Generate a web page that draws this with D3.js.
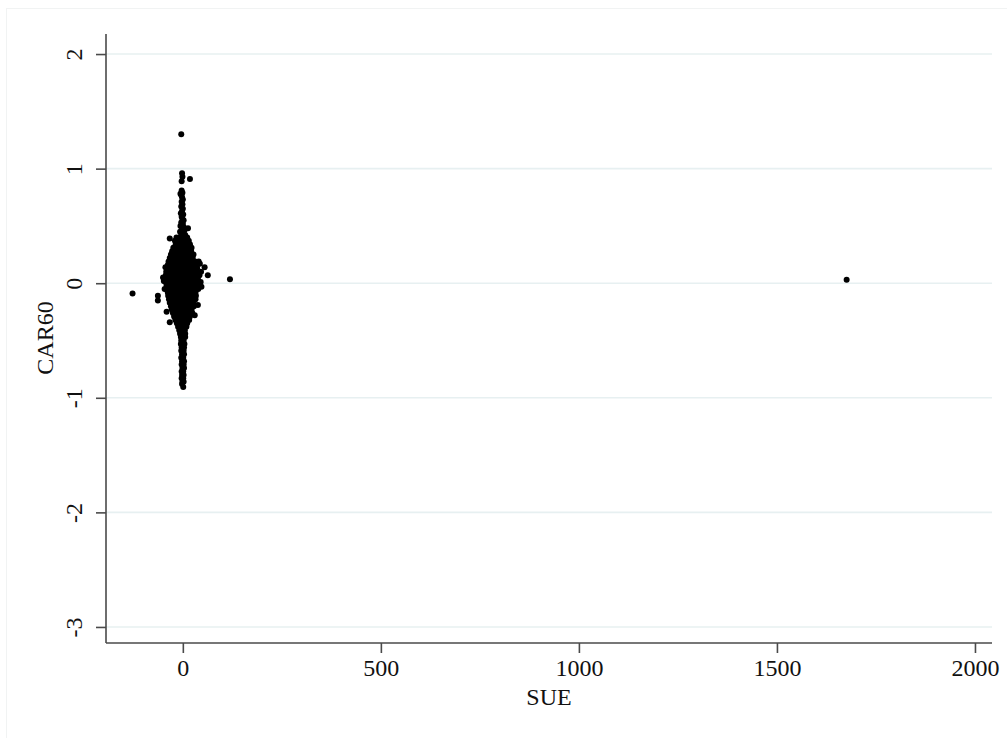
<!DOCTYPE html>
<html>
<head>
<meta charset="utf-8">
<script src="https://cdn.jsdelivr.net/npm/d3@7"></script>
<style>
  body { margin: 0; background: #fff; }
  svg { display: block; }
  text { font-family: "Liberation Serif", "DejaVu Serif", serif; fill: #111; }
</style>
</head>
<body>
<div id="chart"></div>
<script>
'use strict';

// axis ticks
const xTicks = [0, 500, 1000, 1500, 2000];
const yTicks = [2, 1, 0, -1, -2, -3];

// [SUE, CAR60] per firm
const outliers = [
  [-4, 1.30], [18, 0.91], [-33, 0.39], [13, 0.48], [43, 0.17], [55, 0.14],
  [63, 0.07], [119, 0.035], [-127, -0.09], [-63, -0.11], [-63, -0.15],
  [-50, 0.05], [-41, -0.25], [-33, -0.34], [38, -0.19], [30, -0.28],
  [40, 0.19], [46, 0.10], [-48, 0.02], [-46, -0.05], [47, -0.03], [-44, 0.14],
  [1676, 0.03]
];

const upperColumn = [
  [-2, 0.96], [-1, 0.93], [-3, 0.89], [-3, 0.81], [-1, 0.79], [-6, 0.78],
  [-4, 0.77], [-2, 0.75], [0, 0.73], [-3, 0.71], [-1, 0.69], [-4, 0.67],
  [0, 0.65], [-2, 0.63], [-5, 0.61], [1, 0.60], [-3, 0.58], [-1, 0.56],
  [2, 0.55], [-4, 0.53], [0, 0.52], [-6, 0.50], [2, 0.49], [-2, 0.47],
  [4, 0.46], [-7, 0.45], [0, 0.44], [-4, 0.42], [6, 0.42]
];

const core = [
  [-16, 0.40], [-7, 0.40], [2, 0.40], [11, 0.40],
  [-20, 0.37], [-11, 0.37], [-2, 0.37], [7, 0.37], [15, 0.37],
  [-18, 0.34], [-9, 0.34], [0, 0.34], [9, 0.34], [18, 0.34],
  [-24, 0.31], [-14, 0.31], [-4, 0.31], [5, 0.31], [14, 0.31], [22, 0.31],
  [-27, 0.28], [-17, 0.28], [-7, 0.28], [3, 0.28], [12, 0.28], [21, 0.28],
  [-30, 0.25], [-20, 0.25], [-10, 0.25], [0, 0.25], [9, 0.25], [18, 0.25], [27, 0.25],
  [-33, 0.22], [-23, 0.22], [-13, 0.22], [-3, 0.22], [7, 0.22], [16, 0.22], [25, 0.22],
  [-36, 0.19], [-26, 0.19], [-16, 0.19], [-6, 0.19], [4, 0.19], [13, 0.19], [22, 0.19], [31, 0.19],
  [-38, 0.16], [-28, 0.16], [-18, 0.16], [-8, 0.16], [2, 0.16], [11, 0.16], [20, 0.16], [29, 0.16], [36, 0.16],
  [-40, 0.13], [-30, 0.13], [-20, 0.13], [-10, 0.13], [0, 0.13], [9, 0.13], [18, 0.13], [27, 0.13], [36, 0.13],
  [-42, 0.10], [-32, 0.10], [-22, 0.10], [-12, 0.10], [-2, 0.10], [8, 0.10], [17, 0.10], [26, 0.10], [35, 0.10],
  [-43, 0.07], [-33, 0.07], [-23, 0.07], [-13, 0.07], [-3, 0.07], [7, 0.07], [16, 0.07], [25, 0.07], [34, 0.07], [42, 0.07],
  [-42, 0.04], [-32, 0.04], [-22, 0.04], [-12, 0.04], [-2, 0.04], [8, 0.04], [18, 0.04], [28, 0.04], [38, 0.04],
  [-44, 0.01], [-34, 0.01], [-24, 0.01], [-14, 0.01], [-4, 0.01], [6, 0.01], [16, 0.01], [26, 0.01], [36, 0.01], [45, 0.01],
  [-41, -0.02], [-31, -0.02], [-21, -0.02], [-11, -0.02], [-1, -0.02], [9, -0.02], [19, -0.02], [29, -0.02], [38, -0.02],
  [-40, -0.05], [-30, -0.05], [-20, -0.05], [-10, -0.05], [0, -0.05], [10, -0.05], [20, -0.05], [30, -0.05], [39, -0.05],
  [-38, -0.08], [-28, -0.08], [-18, -0.08], [-8, -0.08], [2, -0.08], [12, -0.08], [22, -0.08], [32, -0.08],
  [-37, -0.11], [-27, -0.11], [-17, -0.11], [-7, -0.11], [3, -0.11], [13, -0.11], [23, -0.11], [33, -0.11],
  [-35, -0.14], [-25, -0.14], [-15, -0.14], [-5, -0.14], [5, -0.14], [15, -0.14], [25, -0.14], [32, -0.14],
  [-33, -0.17], [-23, -0.17], [-13, -0.17], [-3, -0.17], [7, -0.17], [17, -0.17], [27, -0.17],
  [-30, -0.20], [-20, -0.20], [-10, -0.20], [0, -0.20], [10, -0.20], [20, -0.20], [28, -0.20],
  [-28, -0.23], [-18, -0.23], [-8, -0.23], [2, -0.23], [12, -0.23], [22, -0.23],
  [-25, -0.26], [-15, -0.26], [-5, -0.26], [5, -0.26], [15, -0.26], [24, -0.26],
  [-22, -0.29], [-12, -0.29], [-2, -0.29], [8, -0.29], [18, -0.29],
  [-19, -0.32], [-10, -0.32], [-1, -0.32], [8, -0.32], [16, -0.32]
];

const lowerColumn = [
  [-15, -0.35], [-6, -0.35], [3, -0.35], [11, -0.35],
  [-12, -0.38], [-4, -0.38], [4, -0.38], [9, -0.38],
  [-9, -0.41], [-2, -0.41], [5, -0.41],
  [-7, -0.44], [0, -0.44], [6, -0.44],
  [-5, -0.47], [1, -0.47], [6, -0.47],
  [-4, -0.50], [2, -0.50],
  [-5, -0.53], [1, -0.53], [4, -0.53],
  [-3, -0.56], [3, -0.56], [-4, -0.59], [2, -0.59],
  [-2, -0.62], [3, -0.62], [-4, -0.65], [1, -0.65],
  [-2, -0.68], [3, -0.68], [-3, -0.71], [2, -0.71],
  [-1, -0.74], [3, -0.74], [-3, -0.77], [1, -0.77],
  [-2, -0.80], [2, -0.80], [-3, -0.83], [1, -0.83],
  [-1, -0.86], [2, -0.86], [-2, -0.88], [1, -0.905]
];

const firms = outliers.concat(upperColumn, core, lowerColumn);

const width = 1007;
const height = 738;
const plot = { left: 106, right: 992, top: 34, bottom: 643 };

const svg = d3.select('#chart').append('svg')
  .attr('width', width)
  .attr('height', height);

// faint outer region border
svg.append('rect')
  .attr('x', 6.5).attr('y', 8.5)
  .attr('width', width).attr('height', height)
  .attr('fill', 'none')
  .attr('stroke', '#f1f3f3');

const xScale = d3.scaleLinear()
  .domain([-194, 2043])
  .range([plot.left, plot.right]);

const yScale = d3.scaleLinear()
  .domain([-3.14, 2.175])
  .range([plot.bottom, plot.top]);

// gridlines
svg.append('g')
  .selectAll('line')
  .data(yTicks)
  .enter().append('line')
  .attr('x1', plot.left)
  .attr('x2', plot.right)
  .attr('y1', d => yScale(d))
  .attr('y2', d => yScale(d))
  .attr('stroke', '#e7f0f1')
  .attr('stroke-width', 1.6);

const plainLabel = d => String(d);

const xAxis = d3.axisBottom(xScale)
  .tickValues(xTicks)
  .tickFormat(plainLabel)
  .tickSize(10)
  .tickSizeOuter(0);

const yAxis = d3.axisLeft(yScale)
  .tickValues(yTicks)
  .tickFormat(plainLabel)
  .tickSize(10)
  .tickSizeOuter(0);

const gx = svg.append('g')
  .attr('transform', `translate(0, ${plot.bottom})`)
  .call(xAxis);

const gy = svg.append('g')
  .attr('transform', `translate(${plot.left}, 0)`)
  .call(yAxis);

[gx, gy].forEach(g => {
  g.select('.domain').attr('stroke', '#4a4a4a').attr('stroke-width', 1.6);
  g.selectAll('.tick line').attr('stroke', '#4a4a4a').attr('stroke-width', 1.6);
  g.selectAll('.tick text')
    .attr('fill', '#111')
    .style('font-family', '"Liberation Serif", serif')
    .style('font-size', '24px');
});

gx.select('.domain').attr('d', `M${plot.left},0H${plot.right}`);
gy.select('.domain').attr('d', `M0,${plot.top}V${plot.bottom}`);

gx.selectAll('.tick text').attr('y', 16).attr('dy', '0.71em');

gy.selectAll('.tick text')
  .attr('x', null).attr('dy', null)
  .attr('text-anchor', 'middle')
  .attr('transform', 'translate(-24, 0) rotate(-90)');

// axis titles
svg.append('text')
  .attr('x', 549)
  .attr('y', 705)
  .attr('text-anchor', 'middle')
  .style('font-size', '24px')
  .text('SUE');

svg.append('text')
  .attr('transform', 'translate(53, 338) rotate(-90)')
  .attr('text-anchor', 'middle')
  .style('font-size', '24px')
  .text('CAR60');

// points
svg.append('g')
  .selectAll('.dot')
  .data(firms)
  .enter().append('circle')
  .attr('class', 'dot')
  .attr('r', 3)
  .attr('cx', d => xScale(d[0]))
  .attr('cy', d => yScale(d[1]))
  .style('fill', '#000');
</script>
</body>
</html>
